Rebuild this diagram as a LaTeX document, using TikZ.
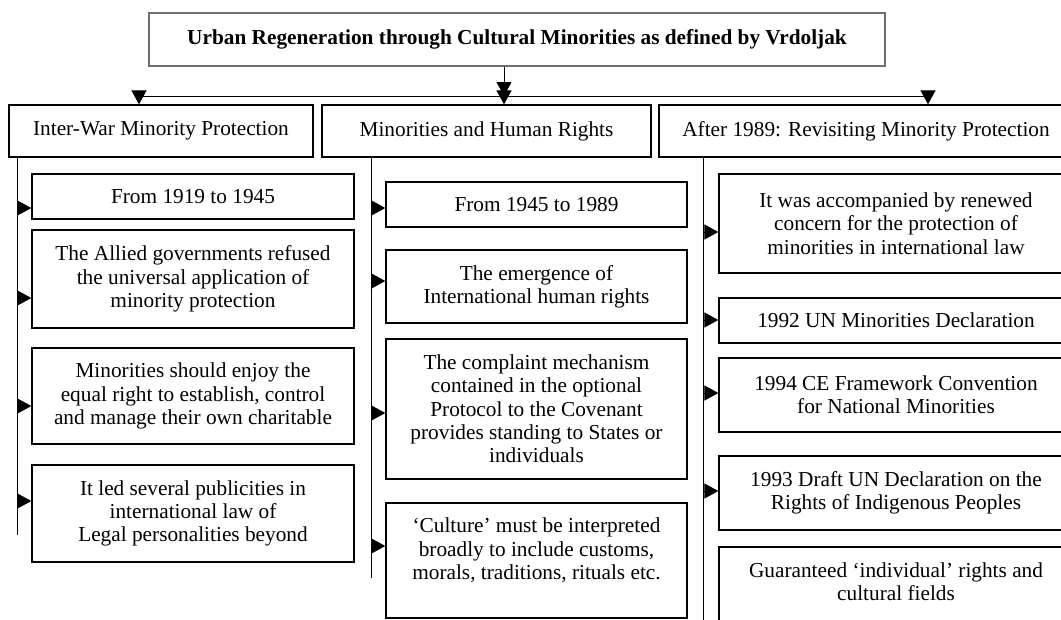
\documentclass[tikz,border=0pt]{standalone}
\usepackage{fontspec}
\setmainfont{Liberation Serif}
\usepackage{tikz}
\usetikzlibrary{arrows.meta, positioning}

\tikzset{
    itembox/.style={draw, line width=1.3pt, align=center, inner sep=0pt,
        font=\fontsize{21.3}{23.3}\selectfont},
    link/.style={-{Triangle[length=14pt, width=15pt]}, line width=1pt},
    spine/.style={line width=1pt},
}

\begin{document}
\begin{tikzpicture}[x=1pt, y=-1pt]
    \clip (0,0) rectangle (1061,619);

    % Khung tiêu đề
    \node[itembox, draw=black!57, line width=1.7pt, minimum width=736pt, minimum height=53pt,
        font=\bfseries\fontsize{21.3}{23.3}\selectfont] (title) at (517,39.5)
        {Urban Regeneration through Cultural Minorities as defined by Vrdoljak};

    % Ba cột tiêu đề
    \node[itembox, minimum width=304pt, minimum height=52pt] (war) at (161,131) {Inter-War Minority Protection};
    \node[itembox, minimum width=329pt, minimum height=52pt] (rights) at (486.5,131) {Minorities and Human Rights};
    \node[itembox, minimum width=414pt, minimum height=52pt] (after) at (866,131) {After 1989: Revisiting Minority Protection};

    % Đường nối ngang
    \coordinate (busL) at (139,96);
    \coordinate (busM) at (504,96);
    \coordinate (busR) at (928,96);
    \draw[spine] (busL) -- (busR);
    \draw[link] (title.south -| busM) -- (busM);
    \foreach \c/\h in {busL/war, busM/rights, busR/after} {
        \draw[link] (\c) -- (\h.north -| \c);
    }

    % Cột 1
    \node[itembox, minimum width=322pt, minimum height=45pt] (a1) at (193,196.5) {From 1919 to 1945};
    \node[itembox, minimum width=322pt, minimum height=98pt] (a2) at (193,279)
        {The Allied governments refused\\the universal application of\\minority protection};
    \node[itembox, minimum width=322pt, minimum height=96pt] (a3) at (193,396)
        {Minorities should enjoy the\\equal right to establish, control\\and manage their own charitable};
    \node[itembox, minimum width=322pt, minimum height=97pt] (a4) at (193,513.5)
        {It led several publicities in\\international law of\\Legal personalities beyond};

    % Cột 2
    \node[itembox, minimum width=301pt, minimum height=45pt] (b1) at (536.5,204.5) {From 1945 to 1989};
    \node[itembox, minimum width=301pt, minimum height=73pt] (b2) at (536.5,286.5)
        {The emergence of\\International human rights};
    \node[itembox, minimum width=301pt, minimum height=140pt] (b3) at (536.5,409)
        {The complaint mechanism\\contained in the optional\\Protocol to the Covenant\\provides standing to States or\\individuals};
    \node[itembox, minimum width=301pt, minimum height=115pt] (b4) at (536.5,560.5)
        {‘Culture’ must be interpreted\\broadly to include customs,\\morals, traditions, rituals etc.\\\mbox{}};

    % Cột 3
    \node[itembox, minimum width=354pt, minimum height=99pt] (c1) at (896,223.5)
        {It was accompanied by renewed\\concern for the protection of\\minorities in international law};
    \node[itembox, minimum width=354pt, minimum height=45pt] (c2) at (896,320.5) {1992 UN Minorities Declaration};
    \node[itembox, minimum width=354pt, minimum height=74pt] (c3) at (896,395)
        {1994 CE Framework Convention\\for National Minorities};
    \node[itembox, minimum width=354pt, minimum height=74pt] (c4) at (896,493)
        {1993 Draft UN Declaration on the\\Rights of Indigenous Peoples};
    \node[itembox, minimum width=354pt, minimum height=93pt] (c5) at (896,593.5)
        {Guaranteed ‘individual’ rights and\\cultural fields\\\mbox{}};

    % Trục dọc và mũi tên
    \coordinate (endA) at (17,535);
    \coordinate (endB) at (371,578);
    \coordinate (endC) at (703,640);
    \draw[spine] (war.south -| endA) -- (endA);
    \draw[spine] (rights.south -| endB) -- (endB);
    \draw[spine] (after.south -| endC) -- (endC);
    \foreach \n/\y in {a1/208, a2/298, a3/406, a4/501} {
        \draw[link] (endA |- 0,\y) -- (\n.west |- 0,\y);
    }
    \foreach \n/\y in {b1/208, b2/281, b3/413, b4/546} {
        \draw[link] (endB |- 0,\y) -- (\n.west |- 0,\y);
    }
    \foreach \n/\y in {c1/232, c2/320, c3/393, c4/491} {
        \draw[link] (endC |- 0,\y) -- (\n.west |- 0,\y);
    }
\end{tikzpicture}
\end{document}
